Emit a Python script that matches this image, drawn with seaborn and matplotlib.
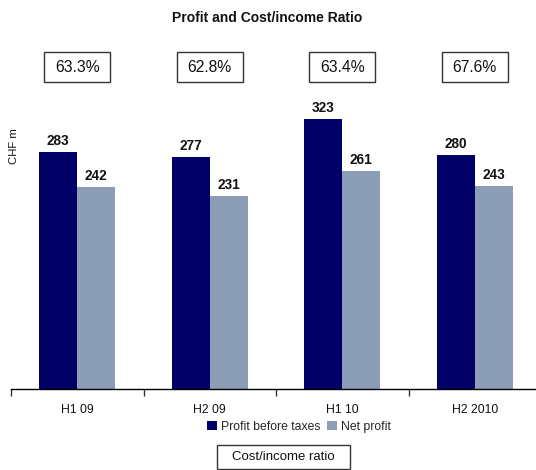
import matplotlib
matplotlib.use('Agg')
import matplotlib.pyplot as plt
import seaborn as sns
import pandas as pd
from matplotlib.patches import Rectangle, Patch
import matplotlib.transforms as mtransforms

periods = ['H1 09', 'H2 09', 'H1 10', 'H2 2010']
profit_before_taxes = [283, 277, 323, 280]
net_profit = [242, 231, 261, 243]
cost_income_ratio = ['63.3%', '62.8%', '63.4%', '67.6%']
series_names = ['Profit before taxes', 'Net profit']
colors = ['#000066', '#8C9DB8']

df = pd.DataFrame({
    'Period': periods * 2,
    'Value': profit_before_taxes + net_profit,
    'Series': [series_names[0]] * len(periods) + [series_names[1]] * len(periods),
})

sns.set_theme(style='white')
plt.rcParams['font.family'] = ['Liberation Sans', 'DejaVu Sans']

W, H = 536, 470
fig = plt.figure(figsize=(W / 100, H / 100), dpi=100)


def fx(px):
    return px / W


def fy(py):
    return 1 - py / H


ax = fig.add_axes([fx(11), fy(389), 530 / W, (389 - 55) / H])
sns.barplot(data=df, x='Period', y='Value', hue='Series', hue_order=series_names,
            palette=colors, width=0.574, saturation=1, ax=ax, legend=False,
            errorbar=None, linewidth=0, edgecolor='none')
ax.set_xlim(-0.5, 3.5)
ax.set_ylim(0, (389 - 55) / 0.836)

for c in ax.containers:
    ax.bar_label(c, fmt='%d', padding=3, fontweight='bold', fontsize=9.8, color='#111111')

for s in ['left', 'top', 'right']:
    ax.spines[s].set_visible(False)
ax.spines['bottom'].set_color('black')
ax.spines['bottom'].set_linewidth(1)
ax.set_yticks([])
ax.set_xlabel('')
ax.set_ylabel('')
ax.set_xticks([i - 0.5 for i in range(len(periods) + 1)])
ax.set_xticklabels([])
ax.set_xticks(range(len(periods)), minor=True)
ax.set_xticklabels(periods, minor=True, fontsize=8.8, color='#111111')
ax.tick_params(axis='x', which='major', length=5, width=1, direction='out', color='#333333', bottom=True)
ax.tick_params(axis='x', which='minor', length=0, pad=11, bottom=True)

# cost/income ratio boxes
trans = mtransforms.blended_transform_factory(ax.transData, fig.transFigure)
for i, r in enumerate(cost_income_ratio):
    rect = Rectangle((i - 0.25, fy(82)), 0.5, 30 / H, transform=trans,
                     fill=False, edgecolor='#333333', linewidth=1, clip_on=False)
    fig.add_artist(rect)
    ax.text(i, fy(67.5), r, transform=trans, ha='center', va='center', fontsize=11.3,
            color='#111111')

fig.text(fx(267.5), fy(18), 'Profit and Cost/income Ratio', ha='center', va='center',
         fontsize=10, fontweight='bold', color='#111111')
fig.text(fx(14), fy(146), 'CHF m', rotation=90, ha='center', va='center', fontsize=8.2,
         color='#111111')

handles = [Patch(facecolor=c, edgecolor='none') for c in colors]
fig.legend(handles, series_names, loc='center', bbox_to_anchor=(fx(299), fy(427)),
           ncol=2, frameon=False, handlelength=0.8, handleheight=0.8,
           handletextpad=0.3, columnspacing=0.6, fontsize=8.8)

fig.add_artist(Rectangle((fx(217), fy(469)), 133 / W, 24 / H, transform=fig.transFigure,
                         fill=False, edgecolor='#333333', linewidth=1))
fig.text(fx(283.5), fy(457), 'Cost/income ratio', ha='center', va='center', fontsize=9.5,
         color='#111111')

fig.savefig('out.png', dpi=100)
